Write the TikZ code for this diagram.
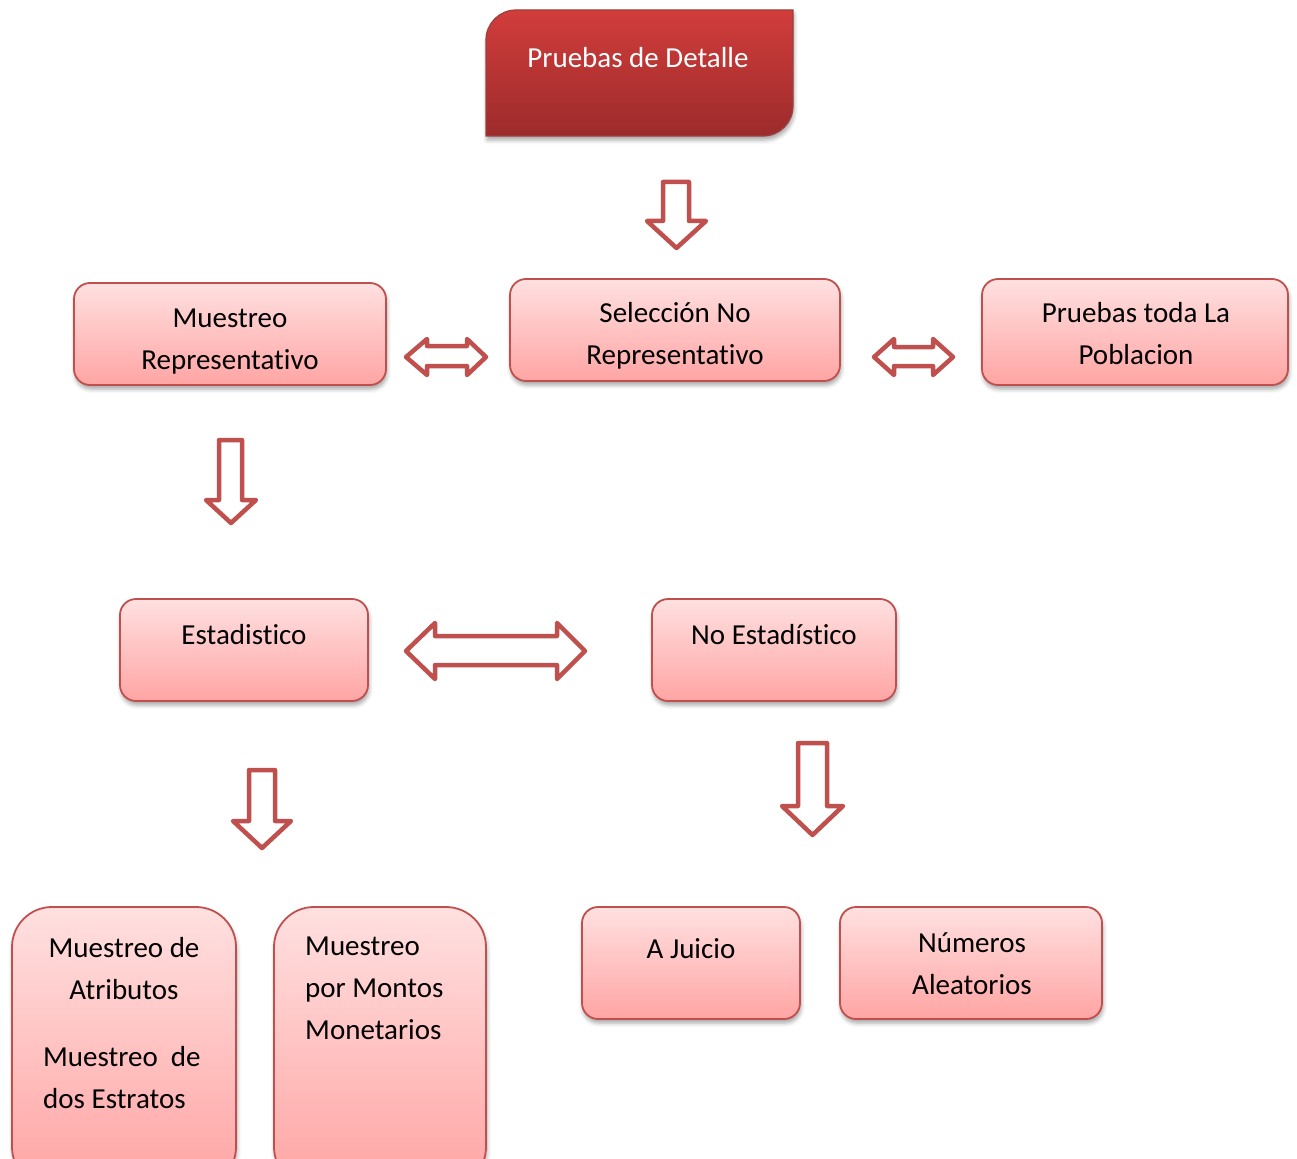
\documentclass[tikz,border=0pt]{standalone}
\usepackage{fontspec}
\setmainfont{Carlito}[Ligatures=NoCommon]
\usetikzlibrary{calc,shadows.blur}
\definecolor{bord}{HTML}{C0504D}
\definecolor{btop}{HTML}{FFE0E0}
\definecolor{bbot}{HTML}{FFA5A4}
\definecolor{rtop}{HTML}{D13D3B}
\definecolor{rbot}{HTML}{9C2B2B}
\newcommand\bigfont{\fontsize{29}{42}\selectfont}
\newcommand\lead{\rule{0pt}{27pt}}
\tikzset{
  shad/.style={blur shadow={shadow xshift=1pt, shadow yshift=-4pt, shadow blur radius=4pt, shadow opacity=35}},
  bx/.style={draw=bord, line width=1.8pt, top color=btop, bottom color=bbot, shad,
     rounded corners=#1, inner sep=0pt, outer sep=0pt},
  bx/.default=16pt,
  txt/.style={inner sep=0pt, anchor=north, align=center, font=\bigfont, text=black},
  txtl/.style={inner sep=0pt, anchor=north west, align=left, font=\bigfont, text=black},
  blk/.style={draw=bord, line width=4.5pt, fill=white, line join=round},
}
\newcommand\dnarrow[7]{%
  \draw[blk] (#2,#5) -- (#3,#5) -- (#3,#6) -- (#4,#6) -- ({(#1+#4)/2},#7) -- (#1,#6) -- (#2,#6) -- cycle;}
\newcommand\lrarrow[8]{%
  \draw[blk] (#1,{(#5+#8)/2}) -- (#2,#5) -- (#2,#6) -- (#3,#6) -- (#3,#5) -- (#4,{(#5+#8)/2})
     -- (#3,#8) -- (#3,#7) -- (#2,#7) -- (#2,#8) -- cycle;}
\begin{document}
\begin{tikzpicture}[x=1pt,y=-1pt]
\useasboundingbox (0,0) rectangle (1297,1158);
\clip (0,0) rectangle (1297,1158);
% top box
\node[minimum width=307pt, minimum height=126pt, inner sep=0pt, outer sep=0pt] (top) at (639.5,73) {};
\path[draw=bord!80!black, line width=1.2pt, top color=rtop, bottom color=rbot, shad]
  (top.south west) -- ($(top.north west)+(0,-30pt)$)
  .. controls ($(top.north west)+(0,-13.4pt)$) and ($(top.north west)+(13.4pt,0)$) .. ($(top.north west)+(30pt,0)$)
  -- (top.north east) -- ($(top.south east)+(0,30pt)$)
  .. controls ($(top.south east)+(0,13.4pt)$) and ($(top.south east)+(-13.4pt,0)$) .. ($(top.south east)+(-30pt,0)$)
  -- cycle;
\node[txt, text=white] (topt) at (638,40) {\lead Pruebas de Detalle};
% row 2
\node[bx, minimum width=312pt, minimum height=102pt] (mr) at (230,334) {};
\node[bx, minimum width=330pt, minimum height=102pt] (snr) at (675,330) {};
\node[bx, minimum width=306pt, minimum height=106pt] (ptp) at (1135,332) {};
\node[txt] (mrt) at (230,300) {\lead Muestreo\\Representativo};
\node[txt] (snrt) at (675,295) {\lead Selección No\\Representativo};
\node[txt] (ptpt) at (1136,295) {\lead Pruebas toda La\\Poblacion};
% row 3
\node[bx, minimum width=248pt, minimum height=102pt] (est) at (244,650) {};
\node[bx, minimum width=244pt, minimum height=102pt] (nest) at (774,650) {};
\node[txt] (estt) at (244,617) {\lead Estadistico};
\node[txt] (nestt) at (774,617) {\lead No Estadístico};
% row 4
\node[bx=40pt, minimum width=224pt, minimum height=280pt] (ma) at (124,1047) {};
\node[bx=40pt, minimum width=212pt, minimum height=280pt] (mm) at (380,1047) {};
\node[bx, minimum width=218pt, minimum height=112pt] (aj) at (691,963) {};
\node[bx, minimum width=262pt, minimum height=112pt] (na) at (971,963) {};
\node[txt] (mat1) at (124,930) {\lead Muestreo de\\Atributos};
\node[txtl] (mat2) at (43,1039) {\lead Muestreo\ \ de\\dos Estratos};
\node[txtl] (mmt) at (305,928) {\lead Muestreo\\por Montos\\Monetarios};
\node[txt] (ajt) at (691,931) {\lead A Juicio};
\node[txt] (nat) at (972,925) {\lead Números\\Aleatorios};
% block arrows
\dnarrow{647}{663}{689}{706}{182}{221}{248}
\dnarrow{206}{219}{242}{256}{440}{500}{523}
\dnarrow{233}{249}{275}{291}{770}{821}{848}
\dnarrow{782}{798}{827}{843}{743}{806}{835}
\lrarrow{406}{427}{467}{486}{339}{346}{366}{375}
\lrarrow{874}{894}{933}{953}{339}{347}{366}{375}
\lrarrow{406}{435}{557}{585}{623}{636}{665}{679}
\end{tikzpicture}
\end{document}
